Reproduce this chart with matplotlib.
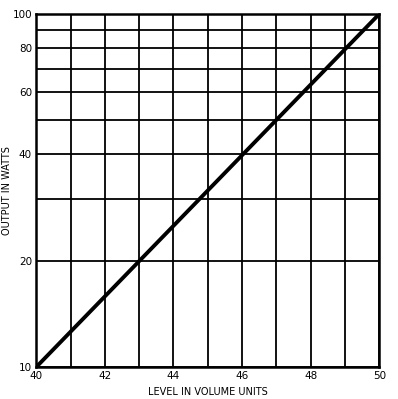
import matplotlib
matplotlib.use("Agg")
import matplotlib.pyplot as plt
from matplotlib.ticker import FixedLocator, NullLocator, NullFormatter

plt.rcParams["font.family"] = ["Liberation Sans Narrow", "DejaVu Sans"]

# data
level_vu = [40, 50]
output_watts = [10, 100]
x_grid = list(range(40, 51))
y_grid = [10, 20, 30, 40, 50, 60, 70, 80, 90, 100]
x_ticks = [40, 42, 44, 46, 48, 50]
y_ticks = [10, 20, 40, 60, 80, 100]

fig = plt.figure(figsize=(3.98, 3.99), dpi=100)
ax = fig.add_axes([0.091, 0.080, 0.862, 0.885])

ax.set_yscale("log")
ax.set_xlim(40, 50)
ax.set_ylim(10, 100)

for x in x_grid:
    ax.axvline(x, color="black", lw=1.3, zorder=1)
for y in y_grid:
    ax.axhline(y, color="black", lw=1.3, zorder=1)

ax.plot(level_vu, output_watts, color="black", lw=2.8, zorder=3)

ax.xaxis.set_major_locator(FixedLocator(x_ticks))
ax.yaxis.set_major_locator(FixedLocator(y_ticks))
ax.yaxis.set_minor_locator(NullLocator())
ax.yaxis.set_minor_formatter(NullFormatter())
ax.set_xticklabels([str(v) for v in x_ticks])
ax.set_yticklabels([str(v) for v in y_ticks])
ax.tick_params(length=0, labelsize=7.5, pad=3)

for s in ax.spines.values():
    s.set_linewidth(1.8)

ax.set_xlabel("LEVEL IN VOLUME UNITS", fontsize=7, labelpad=3)
ax.set_ylabel("OUTPUT IN WATTS", fontsize=7, labelpad=2)
ax.xaxis.set_label_coords(0.5, -0.055)
ax.yaxis.set_label_coords(-0.072, 0.5)

fig.savefig("out.png", dpi=100, facecolor="white")
